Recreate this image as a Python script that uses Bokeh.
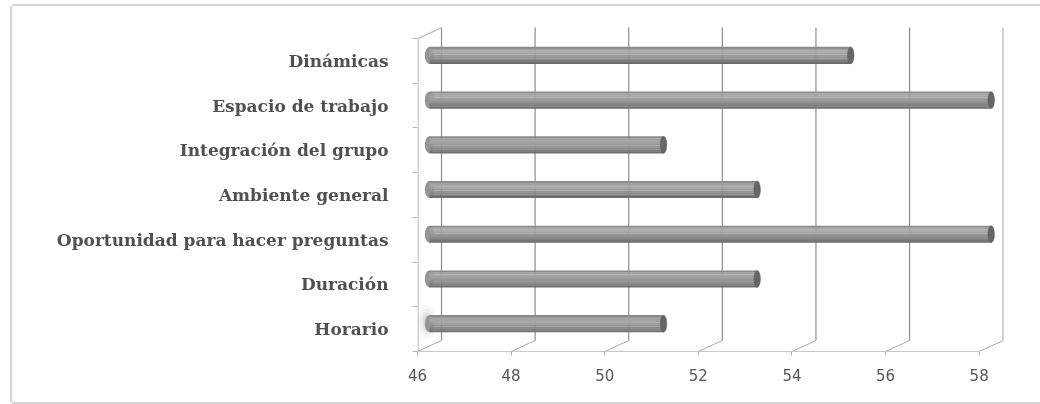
from bokeh.plotting import figure
from bokeh.models import Range1d, FixedTicker, ColumnDataSource
from bokeh.embed import file_html
from bokeh.resources import INLINE

# ---- data ----
categories = ["Horario", "Duración", "Oportunidad para hacer preguntas",
              "Ambiente general", "Integración del grupo", "Espacio de trabajo",
              "Dinámicas"]
values = [51, 53, 58, 53, 51, 58, 55]
x_ticks = [46, 48, 50, 52, 54, 56, 58]

# ---- style constants ----
X0 = 46
DX = 0.513   # 3D depth offset (x data units)
DY = 0.246   # 3D depth offset (y data units)
BAR_H = 0.38
N = len(categories)

p = figure(width=1028, height=396, output_backend="svg", toolbar_location=None,
           x_range=Range1d(46, 58.52), y_range=Range1d(0, N + 0.27),
           min_border_left=405, min_border_right=37, min_border_top=20,
           min_border_bottom=51)
p.styles = {"position": "fixed", "left": "12px", "top": "6px",
            "box-shadow": "-2px 0 0 0 #d4d4d4, 0 -2px 0 0 #d4d4d4, 0 2px 0 0 #d4d4d4"}
p.outline_line_color = None
p.xgrid.visible = False
p.ygrid.visible = False
p.background_fill_color = "white"
p.border_fill_color = "white"

# ---- walls / grid ----
top = N + DY
p.segment(x0=[t + DX for t in x_ticks], y0=[DY] * len(x_ticks),
          x1=[t + DX for t in x_ticks], y1=[top] * len(x_ticks),
          line_color="#8e8e8e", line_width=1.2)
p.segment(x0=x_ticks, y0=[0] * len(x_ticks),
          x1=[t + DX for t in x_ticks], y1=[DY] * len(x_ticks),
          line_color="#a8a8a8", line_width=1)
# left wall: front edge and top diagonal
p.segment(x0=[X0 + 0.012, X0 + 0.012], y0=[0, N], x1=[X0 + 0.012, X0 + DX], y1=[N, N + DY],
          line_color="#c0c0c0", line_width=1.4)

# ---- shadow blob ----
for w, h, a in [(0.42, 0.75, 0.06), (0.3, 0.6, 0.08), (0.2, 0.45, 0.10), (0.12, 0.3, 0.12)]:
    p.ellipse(x=[X0 + 0.2], y=[0.66], width=w, height=h,
              fill_color="#808080", fill_alpha=a, line_color=None)

# ---- cylinder bars ----
ys = [i + 0.5 + DY / 2 for i in range(N)]
src = ColumnDataSource(dict(y=ys, right=[v + DX / 2 for v in values],
                            cat=categories, val=values))
stripes = ["#8a8a8a", "#a0a0a0", "#a6a6a6", "#a2a2a2", "#9a9a9a",
           "#929292", "#888888", "#7e7e7e", "#6e6e6e"]
ns = len(stripes)
sh = BAR_H / ns
# left rounded end
p.ellipse(x=X0 + DX / 2, y="y", width=0.2, height=BAR_H, source=src,
          fill_color="#959595", line_color=None)
for k, c in enumerate(stripes):
    off = BAR_H / 2 - sh * (k + 0.5)
    s2 = ColumnDataSource(dict(y=[y + off for y in ys],
                               right=[v + DX / 2 for v in values]))
    p.hbar(y="y", right="right", left=X0 + DX / 2, height=sh * 1.08, source=s2,
           fill_color=c, line_color=None)
# right end cap
p.ellipse(x="right", y="y", width=0.14, height=BAR_H, source=src,
          fill_color="#666666", line_color="#5e5e5e", line_width=0.5)

# ---- axes ----
xa = p.xaxis[0]
xa.ticker = FixedTicker(ticks=x_ticks)
xa.bounds = (46, 58)
xa.axis_line_color = "#c8c8c8"
xa.major_tick_line_color = "#b0b0b0"
xa.major_tick_out = 4
xa.major_tick_in = 0
xa.minor_tick_line_color = None
xa.major_label_text_font = "DejaVu Sans"
xa.major_label_text_font_size = "15px"
xa.major_label_text_color = "#555555"
xa.major_label_standoff = 13

ya = p.yaxis[0]
ya.ticker = FixedTicker(ticks=[i + 0.5 for i in range(N)],
                        minor_ticks=list(range(N + 1)))
ya.major_label_overrides = {i + 0.5: c for i, c in enumerate(categories)}
ya.axis_line_color = None
ya.major_tick_line_color = None
ya.major_tick_out = 0
ya.major_tick_in = 0
ya.minor_tick_line_color = "#b8b8b8"
ya.minor_tick_out = 5
ya.minor_tick_in = 0
ya.major_label_text_font = "DejaVu Serif"
ya.major_label_text_font_style = "bold"
ya.major_label_text_font_size = "17px"
ya.major_label_text_color = "#505050"
ya.major_label_standoff = 24

open("out.html", "w").write(file_html(p, INLINE))
